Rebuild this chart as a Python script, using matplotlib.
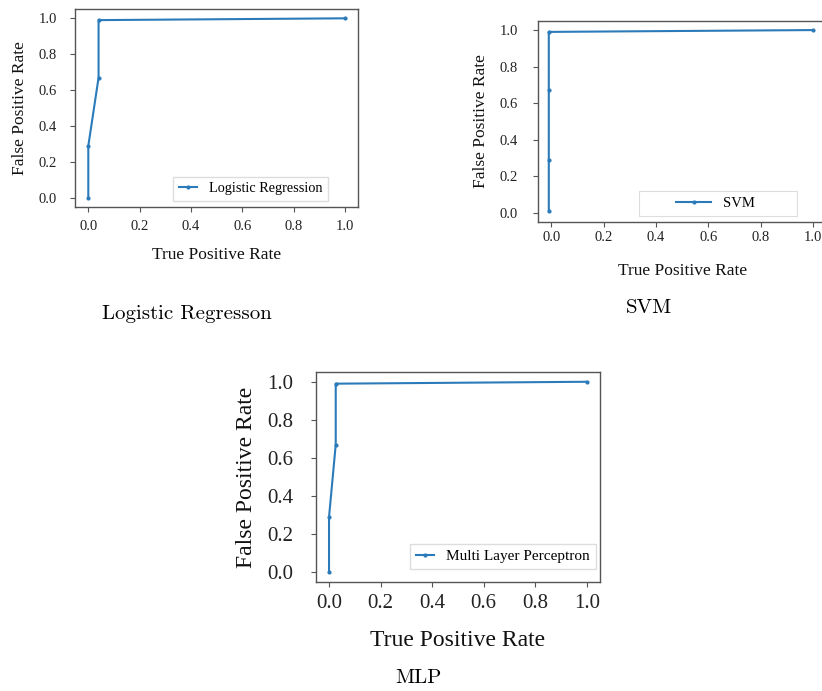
import matplotlib
matplotlib.use("Agg")
import matplotlib.pyplot as plt
from matplotlib.patches import Rectangle

plt.rcParams["font.family"] = ["Liberation Serif", "DejaVu Serif"]

# ROC points (x = TPR axis, y = FPR axis as labelled)
lr_x = [0.0, 0.0, 0.04, 0.04, 1.0]
lr_y = [0.0, 0.29, 0.67, 0.99, 1.0]

svm_x = [-0.01, -0.01, -0.01, -0.01, 1.0]
svm_y = [0.01, 0.29, 0.67, 0.99, 1.0]

mlp_x = [0.0, 0.0, 0.026, 0.026, 1.0]
mlp_y = [0.0, 0.29, 0.67, 0.99, 1.0]

ticks = [0.0, 0.2, 0.4, 0.6, 0.8, 1.0]
xlabel = "True Positive Rate"
ylabel = "False Positive Rate"
LINE = "#2b7bba"
SPINE = "#555555"

fig = plt.figure(figsize=(8.22, 6.91), dpi=100)


def panel(rect, x, y, label, tick_fs, lab_fs, xpad, ypad, lw, xlab_y, ylab_x):
    ax = fig.add_axes(rect)
    ax.plot(x, y, color=LINE, lw=lw, marker=".", markersize=4, label=label)
    ax.set_xlim(-0.05, 1.05)
    ax.set_ylim(-0.05, 1.05)
    ax.set_xticks(ticks)
    ax.set_yticks(ticks)
    ax.tick_params(axis="x", labelsize=tick_fs, pad=xpad, length=3.5,
                   color=SPINE, labelcolor="#222222")
    ax.tick_params(axis="y", labelsize=tick_fs, pad=ypad, length=3.5,
                   color=SPINE, labelcolor="#222222")
    for s in ax.spines.values():
        s.set_color(SPINE)
        s.set_linewidth(1.0)
    ax.set_xlabel(xlabel, fontsize=lab_fs, color="#111111")
    ax.set_ylabel(ylabel, fontsize=lab_fs, color="#111111")
    ax.xaxis.set_label_coords(0.5, xlab_y)
    ax.yaxis.set_label_coords(ylab_x, 0.5)
    return ax


# Logistic regression
ax1 = panel([0.0918, 0.7004, 0.3436, 0.2861], lr_x, lr_y, "Logistic Regression",
            10.5, 12.5, 6, 10, 1.5, -0.2, -0.168)
ax1.legend(loc="lower right", bbox_to_anchor=(0.894, 0.03), borderaxespad=0,
           fontsize=10.3, handlelength=1.3, fancybox=False,
           edgecolor="#dddddd", framealpha=1)

# SVM
ax2 = panel([0.6549, 0.679, 0.3502, 0.2907], svm_x, svm_y, "SVM",
            10.5, 12.5, 3, 11, 1.5, -0.207, -0.171)
ax2.legend(loc="center", bbox_to_anchor=(0.616, 0.091), borderaxespad=0,
           fontsize=10.5, handlelength=2.4, frameon=False)
ax2.add_patch(Rectangle((0.351, 0.029), 0.5465, 0.124, transform=ax2.transAxes,
                        facecolor="white", edgecolor="#dddddd", lw=0.8,
                        zorder=4))
ax2.get_legend().set_zorder(5)

# MLP
ax3 = panel([0.3846, 0.158, 0.3448, 0.3033], mlp_x, mlp_y, "Multi Layer Perceptron",
            15, 17, 5, 13, 1.5, -0.23, -0.208)
ax3.legend(loc="lower right", bbox_to_anchor=(0.988, 0.059), borderaxespad=0,
           fontsize=11, handlelength=1.2, fancybox=False,
           edgecolor="#dddddd", framealpha=1)

# captions under each panel
fig.text(0.227, 0.5383, "Logistic Regresson", family="cmr10", fontsize=15,
         ha="center", va="baseline")
fig.text(0.789, 0.5466, "SVM", family="cmr10", fontsize=15,
         ha="center", va="baseline")
fig.text(0.5085, 0.0111, "MLP", family="cmr10", fontsize=15,
         ha="center", va="baseline")

fig.savefig("out.png", dpi=100)
